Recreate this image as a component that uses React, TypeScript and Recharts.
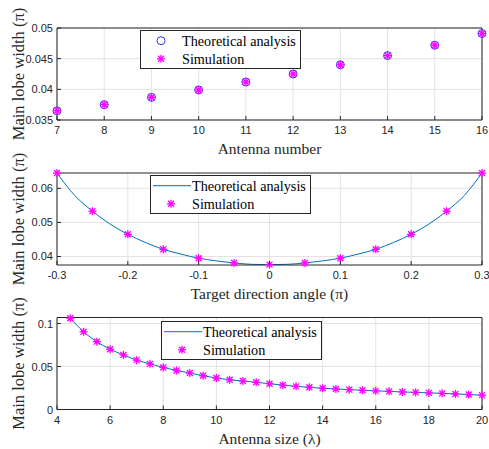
import { LineChart, Line, XAxis, YAxis, CartesianGrid } from 'recharts'

const AXIS = '#262626'
const GRID = '#e3e3e3'
const CURVE = '#0072bd'
const CIRCLE = '#2f2fff'
const MAGENTA = '#ff00ff'
const SERIF = '"Liberation Serif", "Times New Roman", serif'
const SANS = '"Liberation Sans", Arial, sans-serif'

// panel 1: width vs antenna number
const antennaNumber = [7, 8, 9, 10, 11, 12, 13, 14, 15, 16]
const widthVsNumber = [0.0365, 0.0375, 0.0387, 0.0399, 0.0412, 0.0425, 0.044, 0.0455, 0.0472, 0.0491]
const xTicks1 = [7, 8, 9, 10, 11, 12, 13, 14, 15, 16]
const yTicks1 = [0.035, 0.04, 0.045, 0.05]

// panel 2: width vs target direction angle
const angleSim = [-0.3, -0.25, -0.2, -0.15, -0.1, -0.05, 0, 0.05, 0.1, 0.15, 0.2, 0.25, 0.3]
const widthVsAngleSim = [0.0645, 0.0533, 0.0465, 0.0421, 0.0395, 0.0381, 0.0376, 0.0381, 0.0395, 0.0421, 0.0465, 0.0533, 0.0645]
const angleTheory = [
  -0.3, -0.275, -0.25, -0.225, -0.2, -0.175, -0.15, -0.125, -0.1, -0.075, -0.05, -0.025, 0,
  0.025, 0.05, 0.075, 0.1, 0.125, 0.15, 0.175, 0.2, 0.225, 0.25, 0.275, 0.3,
]
const widthVsAngleTheory = [
  0.0645, 0.0579, 0.0533, 0.0495, 0.0465, 0.0441, 0.0421, 0.0407, 0.0395, 0.0387, 0.0381, 0.0377, 0.0376,
  0.0377, 0.0381, 0.0387, 0.0395, 0.0407, 0.0421, 0.0441, 0.0465, 0.0495, 0.0533, 0.0579, 0.0645,
]
const xTicks2 = [-0.3, -0.2, -0.1, 0, 0.1, 0.2, 0.3]
const yTicks2 = [0.04, 0.05, 0.06]

// panel 3: width vs antenna size
const antennaSize = [
  4.5, 5, 5.5, 6, 6.5, 7, 7.5, 8, 8.5, 9, 9.5, 10, 10.5, 11, 11.5, 12,
  12.5, 13, 13.5, 14, 14.5, 15, 15.5, 16, 16.5, 17, 17.5, 18, 18.5, 19, 19.5, 20,
]
const widthVsSize = [
  0.1062, 0.0904, 0.0789, 0.0701, 0.0635, 0.0574, 0.0531, 0.0489, 0.0454, 0.0424, 0.0393, 0.0366, 0.0346, 0.0331, 0.0316, 0.03,
  0.0283, 0.0269, 0.0258, 0.0247, 0.0239, 0.0231, 0.0223, 0.0217, 0.0211, 0.0204, 0.0199, 0.0193, 0.0188, 0.0181, 0.0174, 0.0167,
]
const xTicks3 = [4, 6, 8, 10, 12, 14, 16, 18, 20]
const yTicks3 = [0, 0.05, 0.1]

const toPoints = (xs: number[], ys: number[]) => xs.map((x, i) => ({ x, y: ys[i] }))

const Asterisk = ({ cx, cy }: { cx: number; cy: number }) => (
  <g stroke={MAGENTA} strokeWidth={1.3}>
    <circle cx={cx} cy={cy} r={2.4} fill="#ff80ff" stroke="none" />
    <line x1={cx - 4} x2={cx + 4} y1={cy} y2={cy} />
    <line x1={cx} x2={cx} y1={cy - 4} y2={cy + 4} />
    <line x1={cx - 3} x2={cx + 3} y1={cy - 3} y2={cy + 3} />
    <line x1={cx - 3} x2={cx + 3} y1={cy + 3} y2={cy - 3} />
  </g>
)

const starDot = (p: any) => <Asterisk key={`s-${p.index}`} cx={p.cx} cy={p.cy} />

const BottomTick = ({ x, y, payload }: any) => (
  <g>
    <line x1={x} x2={x} y1={y} y2={y - 4} stroke={AXIS} />
    <text x={x} y={y + 14} textAnchor="middle" fontSize={11} fontFamily={SANS} fill={AXIS}>
      {String(payload.value)}
    </text>
  </g>
)
const TopTick = ({ x, y }: any) => <line x1={x} x2={x} y1={y} y2={y + 4} stroke={AXIS} />
const LeftTick = ({ x, y, payload }: any) => (
  <g>
    <line x1={x} x2={x + 4} y1={y} y2={y} stroke={AXIS} />
    <text x={x - 4} y={y + 4} textAnchor="end" fontSize={11} fontFamily={SANS} fill={AXIS}>
      {String(payload.value)}
    </text>
  </g>
)
const RightTick = ({ x, y }: any) => <line x1={x} x2={x - 4} y1={y} y2={y} stroke={AXIS} />

const XTitle = ({ viewBox, text }: any) => (
  <text x={viewBox.x + viewBox.width / 2} y={viewBox.y + 34} textAnchor="middle" fontSize={15.5} fontFamily={SERIF} fill={AXIS}>
    {text}
  </text>
)
const YTitle = ({ viewBox }: any) => {
  const cy = viewBox.y + viewBox.height / 2
  return (
    <text x={24} y={cy} transform={`rotate(-90 24 ${cy})`} textAnchor="middle" fontSize={16.5} fontFamily={SERIF} fill={AXIS}>
      Main lobe width (π)
    </text>
  )
}

type PanelProps = {
  top: number
  height: number
  plotTop: number
  xDomain: [number, number]
  yDomain: [number, number]
  xTicks: number[]
  yTicks: number[]
  xTitle: string
  children: React.ReactNode
}

function Panel({ top, height, plotTop, xDomain, yDomain, xTicks, yTicks, xTitle, children }: PanelProps) {
  return (
    <div style={{ position: 'absolute', left: 0, top }}>
      <LineChart width={489} height={height} margin={{ top: 0, right: 0, bottom: 0, left: 0 }}>
        <CartesianGrid stroke={GRID} horizontalValues={yTicks} verticalValues={xTicks} />
        <XAxis dataKey="x" type="number" domain={xDomain} ticks={xTicks} height={height - plotTop - 92}
          tickSize={0} tickMargin={0} tickLine={false} axisLine={{ stroke: AXIS }} tick={<BottomTick />}
          interval={0} label={<XTitle text={xTitle} />} />
        <XAxis xAxisId="top" orientation="top" type="number" domain={xDomain} ticks={xTicks} height={plotTop}
          tickSize={0} tickMargin={0} tickLine={false} axisLine={{ stroke: AXIS }} tick={<TopTick />} interval={0} />
        <YAxis dataKey="y" type="number" domain={yDomain} ticks={yTicks} width={57}
          tickSize={0} tickMargin={0} tickLine={false} axisLine={{ stroke: AXIS }} tick={<LeftTick />}
          interval={0} label={<YTitle />} />
        <YAxis yAxisId="right" orientation="right" type="number" domain={yDomain} ticks={yTicks} width={7}
          tickSize={0} tickMargin={0} tickLine={false} axisLine={{ stroke: AXIS }} tick={<RightTick />} interval={0} />
        {children}
      </LineChart>
    </div>
  )
}

function LegendBox({ left, top, lineSample }: { left: number; top: number; lineSample: boolean }) {
  const w = 161
  const h = 39
  return (
    <svg style={{ position: 'absolute', left, top }} width={w} height={h}>
      <rect x={0.5} y={0.5} width={w - 1} height={h - 1} fill="#fff" stroke={AXIS} />
      {lineSample ? (
        <line x1={3} x2={41} y1={10.7} y2={10.7} stroke={CURVE} />
      ) : (
        <circle cx={21} cy={10.7} r={4} fill="none" stroke={CIRCLE} />
      )}
      <text x={42} y={15.5} fontSize={14.2} fontFamily={SERIF} fill="#000">Theoretical analysis</text>
      <Asterisk cx={21} cy={28.8} />
      <text x={42} y={33.6} fontSize={14.2} fontFamily={SERIF} fill="#000">Simulation</text>
    </svg>
  )
}

export default function App() {
  return (
    <div style={{ position: 'relative', width: 489, height: 449, background: '#fff' }}>
      <style>{'body { margin: 0; }'}</style>

      <Panel top={0} height={160} plotTop={28} xDomain={[7, 16]} yDomain={[0.035, 0.05]}
        xTicks={xTicks1} yTicks={yTicks1} xTitle="Antenna number">
        <Line data={toPoints(antennaNumber, widthVsNumber)} dataKey="y" stroke="none" isAnimationActive={false}
          dot={{ r: 4, fill: 'none', stroke: CIRCLE, strokeWidth: 1 }} />
        <Line data={toPoints(antennaNumber, widthVsNumber)} dataKey="y" stroke="none" isAnimationActive={false}
          dot={starDot} />
      </Panel>

      <Panel top={145} height={160} plotTop={28} xDomain={[-0.3, 0.3]} yDomain={[0.0375, 0.0645]}
        xTicks={xTicks2} yTicks={yTicks2} xTitle="Target direction angle (π)">
        <Line data={toPoints(angleTheory, widthVsAngleTheory)} dataKey="y" type="monotone" stroke={CURVE}
          strokeWidth={1} dot={false} isAnimationActive={false} />
        <Line data={toPoints(angleSim, widthVsAngleSim)} dataKey="y" stroke="none" isAnimationActive={false}
          dot={starDot} />
      </Panel>

      <Panel top={290} height={159} plotTop={27.5} xDomain={[4, 20]} yDomain={[0, 0.107]}
        xTicks={xTicks3} yTicks={yTicks3} xTitle="Antenna size (λ)">
        <Line data={toPoints(antennaSize, widthVsSize)} dataKey="y" type="monotone" stroke={CURVE}
          strokeWidth={1} dot={false} isAnimationActive={false} />
        <Line data={toPoints(antennaSize, widthVsSize)} dataKey="y" stroke="none" isAnimationActive={false}
          dot={starDot} />
      </Panel>

      <LegendBox left={140} top={30} lineSample={false} />
      <LegendBox left={150} top={175} lineSample={true} />
      <LegendBox left={161} top={321} lineSample={true} />
    </div>
  )
}
